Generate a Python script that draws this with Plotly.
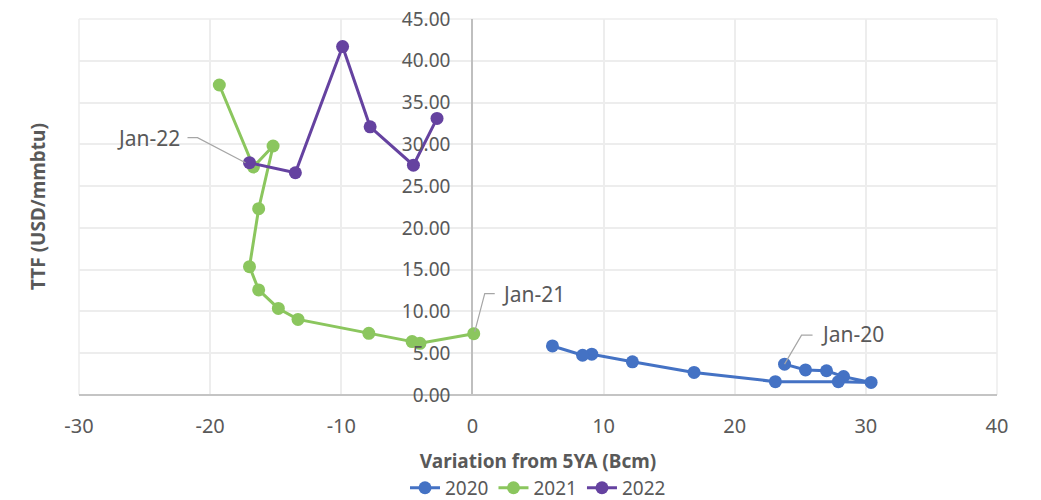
import plotly.graph_objects as go

# Data (Variation from 5YA in Bcm, TTF price in USD/mmbtu), Jan -> Dec
x2020 = [23.8, 25.4, 27.0, 28.3, 30.4, 27.9, 23.1, 16.9, 12.2, 9.1, 8.4, 6.1]
y2020 = [3.69, 3.00, 2.90, 2.20, 1.50, 1.60, 1.60, 2.70, 3.97, 4.88, 4.76, 5.87]

x2021 = [0.1, -4.0, -4.6, -7.9, -13.3, -14.8, -16.3, -17.0, -16.3, -15.2, -16.7, -19.3]
y2021 = [7.34, 6.19, 6.39, 7.38, 9.05, 10.36, 12.58, 15.36, 22.3, 29.8, 27.3, 37.1]

x2022 = [-17.0, -13.5, -9.9, -7.8, -4.5, -2.7]
y2022 = [27.8, 26.6, 41.7, 32.1, 27.5, 33.1]

series_names = ["2020", "2021", "2022"]
colors = ["#4472C4", "#8BC65E", "#6542A0"]

labels = ["Jan-20", "Jan-21", "Jan-22"]

x_tickvals = [-30, -20, -10, 0, 10, 20, 30, 40]
x_ticktext = ["-30", "-20", "-10", "0", "10", "20", "30", "40"]

FONT = "Noto Sans"
TXT = "#595959"
GRID = "#EDEDED"

fig = go.Figure()
for name, xs, ys, c in zip(series_names, [x2020, x2021, x2022], [y2020, y2021, y2022], colors):
    fig.add_trace(go.Scatter(
        x=xs, y=ys, name=name, mode="lines+markers",
        line=dict(color=c, width=3),
        marker=dict(color=c, size=13),
    ))

# Leader lines (pixel offsets relative to the labelled point) and labels
label_pts = [(x2020[0], y2020[0]), (x2021[0], y2021[0]), (x2022[0], y2022[0])]
paths = ["M0,0 L17,29 L28,29", "M1,2 L11,40 L21,40", "M-4,0 L-52,25 L-62,25"]
txt_pos = [(34, 30, "left"), (26, 40, "left"), (-67, 25, "right")]
for (px, py), p, (dx, dy, anc), lab in zip(label_pts, paths, txt_pos, labels):
    fig.add_shape(type="path", xref="x", yref="y", xsizemode="pixel", ysizemode="pixel",
                  xanchor=px, yanchor=py, path=p,
                  line=dict(color="#A6A6A6", width=1.2), layer="above")
    fig.add_annotation(x=px, y=py, xref="x", yref="y", text=lab, showarrow=False,
                       xanchor=anc, yanchor="middle", xshift=dx, yshift=dy,
                       font=dict(family=FONT, size=21, color=TXT))

# Plot-area border lines (left, right, top) in grid colour
for x0, y0, x1, y1 in [(0, 0, 0, 1), (1, 0, 1, 1), (0, 1, 1, 1)]:
    fig.add_shape(type="line", xref="paper", yref="paper", x0=x0, y0=y0, x1=x1, y1=y1,
                  line=dict(color=GRID, width=1.5), layer="below")

# Y axis title at far left
fig.add_annotation(xref="paper", yref="paper", x=0, y=0.5, xshift=-41,
                   text="<b>TTF (USD/mmbtu)</b>", textangle=-90, showarrow=False,
                   xanchor="center", yanchor="middle",
                   font=dict(family=FONT, size=19, color=TXT))

fig.update_layout(
    width=1033, height=492,
    margin=dict(l=71, r=44, t=11, b=105, autoexpand=False),
    paper_bgcolor="white", plot_bgcolor="white",
    font=dict(family=FONT, color=TXT),
    showlegend=True,
    legend=dict(orientation="h", x=0.5, xanchor="center", y=-0.247, yanchor="middle",
                font=dict(family=FONT, size=19, color=TXT)),
    xaxis=dict(
        range=[-30, 40], tickvals=x_tickvals, ticktext=x_ticktext,
        automargin=False, ticklabeloverflow="allow",
        showgrid=True, gridcolor=GRID, gridwidth=1.5,
        zeroline=True, zerolinecolor="#BFBFBF", zerolinewidth=1.5,
        showline=False,
        ticks="", ticklabelstandoff=17,
        tickfont=dict(family=FONT, size=20, color=TXT),
        title=dict(text="<b>Variation from 5YA (Bcm)</b>", standoff=16,
                   font=dict(family=FONT, size=19, color=TXT)),
    ),
    yaxis=dict(
        range=[0, 45], dtick=5, tick0=0, tickformat=".2f",
        anchor="free", position=30 / 70, automargin=False, ticklabeloverflow="allow",
        showgrid=True, gridcolor=GRID, gridwidth=1.5,
        zeroline=True, zerolinecolor="#C4C4C4", zerolinewidth=2,
        showline=False, ticks="", ticklabelstandoff=22,
        tickfont=dict(family=FONT, size=19, color=TXT),
    ),
)

fig.write_html("out.html")
